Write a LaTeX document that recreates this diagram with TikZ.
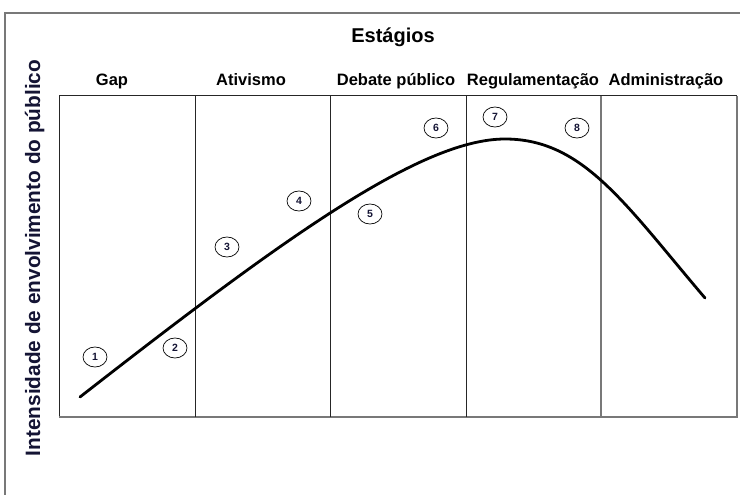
\documentclass[tikz,border=0pt]{standalone}
\usepackage{fontspec}
\setmainfont{Liberation Sans}
\usetikzlibrary{shapes.geometric}
\definecolor{navy}{RGB}{20,20,52}
\definecolor{framegray}{RGB}{120,120,120}
\tikzset{
  num/.style={ellipse,draw=black,line width=0.7pt,minimum width=24pt,minimum height=20pt,inner sep=0pt,font=\fontsize{10.5}{10.5}\selectfont\bfseries,text=navy},
  head/.style={font=\fontsize{16.5}{16.5}\selectfont\bfseries,anchor=base,inner sep=0pt},
  gridline/.style={line width=1pt,draw=black!85},
  grayline/.style={line width=1.2pt,draw=framegray},
  curve/.style={line width=2.8pt,line cap=round,line join=round}
}
\begin{document}
\begin{tikzpicture}[x=1pt,y=-1pt]
\useasboundingbox (0,0) rectangle (740,495);
\fill[white] (0,0) rectangle (740,495);
% outer frame (left and top visible)
\draw[grayline] (5,500) -- (5,13) -- (745,13);
% grid
\draw[gridline] (59,96) -- (737,96);
\draw[gridline] (59,96) -- (59,417);
\draw[grayline] (59,417) -- (737,417) -- (737,96);
\draw[gridline] (195,96) -- (195,417);
\draw[gridline] (330,96) -- (330,417);
\draw[gridline] (466,96) -- (466,417);
\draw[grayline] (601,96) -- (601,417);
% title and headers
\node[head,font=\fontsize{20}{20}\selectfont\bfseries] (title) at (393,43) {Estágios};
\node[head] (h1) at (112,86) {Gap};
\node[head] (h2) at (251,86) {Ativismo};
\node[head] (h3) at (396,86) {Debate público};
\node[head] (h4) at (533,86) {Regulamentação};
\node[head] (h5) at (666,86) {Administração};
% y label
\node[rotate=90,anchor=base,inner sep=0pt,text=navy,font=\fontsize{20.8}{20.8}\selectfont\bfseries] (ylab) at (40,258) {Intensidade de envolvimento do público};
% curve
\coordinate (c0) at (80,397);
\coordinate (c1) at (505,139);
\coordinate (c2) at (705,298);
\draw[curve] (c0) .. controls (280,241) and (420,139) .. (c1)
                  .. controls (583,139) and (625,204) .. (c2);
% numbered markers
\node[num] (n1) at (95,357) {1};
\node[num] (n2) at (175,348) {2};
\node[num] (n3) at (227,247) {3};
\node[num] (n4) at (299,201) {4};
\node[num] (n5) at (370,214) {5};
\node[num] (n6) at (436,128) {6};
\node[num] (n7) at (495,117) {7};
\node[num] (n8) at (577,128) {8};
\end{tikzpicture}
\end{document}
